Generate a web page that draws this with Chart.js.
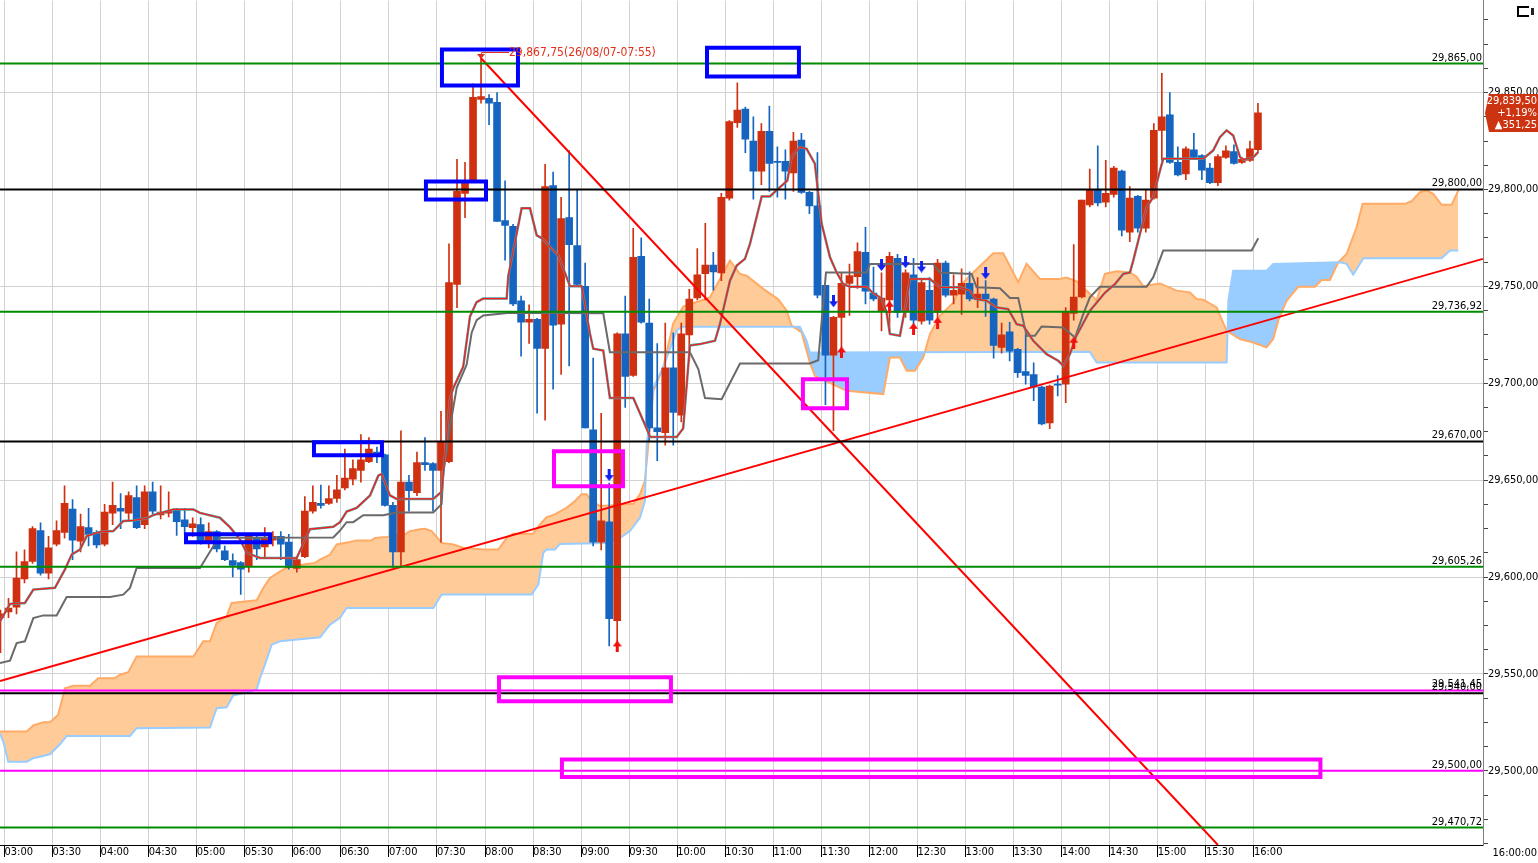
<!DOCTYPE html>
<html>
<head>
<meta charset="utf-8">
<title>5분봉 일목균형표</title>
<script src="https://cdn.jsdelivr.net/npm/chart.js@4.4.1/dist/chart.umd.min.js"></script>
<style>
  html, body { margin: 0; padding: 0; background: #fff; overflow: hidden; }
  canvas { display: block; }
</style>
</head>
<body>
<canvas id="chart" width="1538" height="863"></canvas>
<script>
// ---- data --------------------------------------------------------------
// 5 minute bars, first (partly hidden) bar opens at 02:55
const firstBar = '02:55';
const axisStart = '03:00';
const barMinutes = 5;
const chartDate = '26/08/07';

const openP = [29579, 29582, 29584.5, 29599, 29608, 29624, 29602, 29617, 29623, 29635,
  29618.5, 29625.5, 29623, 29617, 29633, 29635.5, 29633, 29641, 29627, 29644,
  29632, 29633, 29634.5, 29629.5, 29625.5, 29627, 29618, 29623.5, 29613.5, 29608.5,
  29607.5, 29605.5, 29620.5, 29615.5, 29619, 29621, 29618, 29604.5, 29610.5, 29634,
  29638, 29638, 29640.5, 29646, 29650.5, 29655, 29659.5, 29664.5, 29663, 29637,
  29613, 29649, 29643.5, 29659, 29658.5, 29655, 29659.5, 29751, 29798, 29804,
  29846.5, 29847, 29845, 29784, 29781, 29742.5, 29731.5, 29733, 29718, 29802,
  29730.5, 29785.5, 29771, 29750, 29676, 29618, 29628.5, 29577.5, 29725.5, 29704,
  29765.5, 29731, 29677, 29674.5, 29708, 29683.5, 29725, 29744, 29756.5, 29761,
  29757, 29795.5, 29834.5, 29841.5, 29825, 29809.5, 29830, 29814.5, 29814.5, 29808.5,
  29825.5, 29798.5, 29791.5, 29750.5, 29714.5, 29734, 29751.5, 29755, 29767.5, 29746.5,
  29737.5, 29743, 29764.5, 29737, 29756, 29732, 29748, 29736.5, 29762, 29745.5,
  29746, 29751.5, 29743.5, 29746, 29743.5, 29718.5, 29726.5, 29717.5, 29706, 29704.5,
  29698, 29679.5, 29699.5, 29699.5, 29736, 29744.5, 29792, 29800, 29793.5, 29797.5,
  29809.5, 29778, 29796.5, 29780, 29795.5, 29830.5, 29838.5, 29814, 29808, 29820.5,
  29817.5, 29811, 29803.5, 29816.5, 29819.5, 29814, 29815, 29820.5];
const highP = [29583, 29589, 29613, 29614, 29626, 29628, 29621, 29629, 29647, 29640,
  29632.5, 29635.5, 29624, 29637.5, 29649, 29643, 29644, 29647, 29647, 29649,
  29647, 29644, 29635.5, 29635.5, 29630.5, 29630.5, 29628, 29624, 29616, 29612,
  29608, 29622, 29622.5, 29625.5, 29623.5, 29623.5, 29622, 29610.5, 29641.5, 29647,
  29647.5, 29647, 29652.5, 29666, 29660.5, 29673.5, 29672, 29667, 29663.5, 29638.5,
  29675.5, 29652.5, 29664.5, 29672, 29659, 29685.5, 29772, 29815.5, 29814, 29854.5,
  29867.75, 29849, 29850, 29804.5, 29782, 29745, 29740.5, 29733.5, 29813, 29809,
  29796, 29820, 29800, 29762, 29713, 29684.5, 29648.5, 29726, 29745, 29780,
  29775, 29743.5, 29720.5, 29731, 29726, 29731, 29748.5, 29769.5, 29782.5, 29767.5,
  29798, 29835.5, 29855, 29842.5, 29837.5, 29834, 29843, 29822, 29820.5, 29829.5,
  29829, 29799, 29819, 29750.5, 29734.5, 29757, 29761.5, 29772.5, 29780.5, 29760,
  29757, 29767.5, 29766.5, 29758.5, 29764.5, 29754, 29754.5, 29764, 29763, 29756,
  29759, 29757.5, 29754.5, 29753, 29744, 29731, 29731.5, 29718, 29725.5, 29710.5,
  29698.5, 29699, 29704, 29739, 29771.5, 29794.5, 29810.5, 29822.5, 29815, 29812,
  29810, 29801.5, 29797, 29799.5, 29834, 29860, 29850, 29822, 29822, 29829,
  29818, 29813.5, 29818, 29822.5, 29823, 29816.5, 29825, 29844.5];
const lowP = [29561, 29579, 29581, 29597, 29607, 29601, 29599, 29616, 29620, 29609,
  29613, 29616, 29615, 29616, 29627, 29625, 29629, 29625, 29625, 29632.5,
  29630, 29631, 29621.5, 29622, 29621, 29617, 29615, 29613, 29608.5, 29600,
  29591, 29602.5, 29609, 29610.5, 29616, 29609, 29604, 29602.5, 29610, 29633,
  29635.5, 29637.5, 29638.5, 29645, 29647.5, 29649, 29659, 29659, 29636.5, 29605,
  29605, 29634, 29642, 29655, 29634, 29618, 29659, 29739, 29785.5, 29803.5,
  29844.5, 29833.5, 29783.5, 29763.5, 29740, 29714, 29720.5, 29684.5, 29681, 29697,
  29704.5, 29709, 29750.5, 29677, 29616, 29614, 29564.5, 29563.5, 29687.5, 29703.5,
  29731, 29670.5, 29660, 29668, 29668, 29680, 29711.5, 29743, 29743, 29748,
  29753, 29794.5, 29832, 29819, 29795, 29802.5, 29799, 29796, 29795, 29799,
  29798, 29787.5, 29744, 29689, 29675.5, 29714, 29735, 29749, 29741, 29742.5,
  29727, 29727, 29734, 29734, 29730.5, 29730.5, 29730.5, 29734, 29744.5, 29741,
  29735.5, 29742.5, 29739, 29734.5, 29713, 29715.5, 29711.5, 29703, 29699.5, 29691,
  29678.5, 29676.5, 29693.5, 29690, 29732.5, 29744, 29791, 29791.5, 29791, 29796,
  29776, 29773, 29778, 29778, 29795, 29815, 29813.5, 29807, 29805, 29816,
  29805, 29803, 29802, 29816, 29813, 29813.5, 29814.5, 29819];
const closeP = [29581, 29584, 29599.5, 29608, 29625, 29602, 29615, 29624, 29638, 29619,
  29626, 29622, 29616.5, 29633.5, 29637, 29634, 29642, 29625.5, 29644, 29634,
  29633.5, 29634, 29628.5, 29626, 29627.5, 29618, 29623.5, 29614.5, 29609, 29606,
  29604, 29621, 29614.5, 29620.5, 29621, 29617, 29605, 29609, 29634, 29638.5,
  29637, 29640.5, 29645, 29651, 29656, 29660.5, 29666, 29663, 29637, 29613,
  29649, 29644.5, 29659, 29658, 29655, 29669.5, 29752, 29799, 29804, 29847.5,
  29848, 29844.5, 29783.5, 29781.5, 29741, 29731.5, 29733, 29718, 29801.5, 29730,
  29785, 29771.5, 29751, 29677, 29618, 29629, 29578.5, 29725.5, 29703.5, 29765,
  29731.5, 29677, 29675, 29708, 29685, 29725.5, 29743.5, 29756, 29761, 29757.5,
  29796, 29835, 29841, 29826, 29809.5, 29830, 29813.5, 29814, 29809.5, 29825,
  29798.5, 29791.5, 29745.5, 29714.5, 29734, 29751.5, 29755.5, 29768, 29747.5, 29743.5,
  29744, 29765.5, 29736.5, 29757, 29732.5, 29752, 29732.5, 29762, 29745.5, 29748,
  29751.5, 29743.5, 29746, 29743.5, 29719.5, 29725, 29716.5, 29705.5, 29704, 29698,
  29679, 29698.5, 29699, 29737, 29744.5, 29794.5, 29800, 29793, 29798, 29811,
  29779, 29795.5, 29780, 29794.5, 29830.5, 29837.5, 29814, 29807.5, 29821, 29816.5,
  29810, 29803.5, 29817, 29820, 29813.5, 29815.5, 29821, 29839.5];
const dayChange = 351.25;
const dayChangePct = 1.19;

// indicator lines, [bars since 03:00, price]
const tenkan = [[-0.56, 29577.1], [0.69, 29586.1], [2.55, 29586.6], [3.6, 29593.5], [6.3, 29594.4],
  [7.55, 29603.9], [8.39, 29611.6], [9.43, 29614.2], [10.26, 29621.1], [11.92, 29623.3],
  [13.59, 29623.7], [14.83, 29628.9], [16.08, 29629.2], [17.75, 29630.3], [18.58, 29632],
  [21.08, 29634.9], [23.58, 29634.9], [24.41, 29633.1], [26.9, 29630.6], [28.15, 29625.7],
  [29.41, 29619.4], [30.24, 29612.5], [31.9, 29609.8], [36.48, 29609.8], [38.14, 29624.7],
  [41.05, 29625.9], [41.89, 29628.3], [42.72, 29633.8], [43.97, 29635.7], [45.64, 29642.1],
  [46.67, 29652.3], [47.09, 29653.2], [48.13, 29642.1], [48.96, 29640.3], [53.53, 29640.3],
  [54.58, 29644], [55.62, 29692], [56.04, 29697.6], [57.28, 29708.6], [58.12, 29734.5],
  [58.95, 29741.9], [59.77, 29743.7], [62.7, 29743.7], [62.9, 29755.3], [64.57, 29790.3],
  [65.61, 29790.3], [66.45, 29776.3], [67.07, 29774.9], [69.14, 29765.9], [70.61, 29750.1],
  [72.06, 29750.1], [73.1, 29725.6], [73.51, 29717.8], [74.76, 29716.9], [75.59, 29692.4],
  [78.51, 29692.4], [80.17, 29676.7], [80.59, 29672.3], [83.93, 29672.3], [84.74, 29676.7],
  [85.58, 29719.5], [86.84, 29720.2], [88.71, 29721.9], [89.33, 29730.6], [90.58, 29752.9],
  [91.42, 29760.7], [92.45, 29764.2], [93.08, 29771.9], [94.54, 29796.4], [95.57, 29796.4],
  [96.61, 29800.4], [97.74, 29804.6], [98.28, 29816.7], [99.31, 29821.9], [100.15, 29821],
  [101.18, 29813.3], [102.03, 29782.3], [103.07, 29765], [103.9, 29757.2], [104.72, 29751.2],
  [105.56, 29749.8], [107.65, 29749.8], [108.47, 29746.4], [109.52, 29743.8], [110.14, 29736.5],
  [110.55, 29725.4], [111.8, 29724.5], [112.31, 29735.7], [113.06, 29753.8], [115.55, 29753.8],
  [116.79, 29749.5], [119.29, 29749.5], [120.54, 29747.8], [121.16, 29743.5], [122.62, 29742.6],
  [123.87, 29739.1], [125.32, 29738.3], [126.37, 29730.5], [127.19, 29729.7], [128.45, 29721.9],
  [130.12, 29715], [131.56, 29711.6], [132.19, 29709], [133.02, 29715], [133.78, 29724],
  [135.52, 29737.4], [137.39, 29746.7], [138.65, 29751.2], [139.68, 29756.4], [140.52, 29757.2],
  [140.93, 29763.3], [141.77, 29777.1], [142.6, 29790.8], [143.42, 29796], [144.27, 29809.8],
  [144.68, 29815.9], [149.67, 29815.9], [150.92, 29820.2], [151.75, 29827], [152.59, 29830.5],
  [153.41, 29827.9], [154.26, 29816.7], [154.67, 29815.4], [155.92, 29816.7], [156.54, 29819.3]];

const kijun = [[-0.56, 29555.6], [0.69, 29556.8], [1.52, 29565.9], [2.55, 29566.8], [3.6, 29578.8],
  [4.84, 29580.2], [6.51, 29580.2], [7.76, 29589.7], [13.18, 29589.7], [14.83, 29590.9],
  [15.67, 29594.4], [16.5, 29604.7], [24.41, 29604.7], [26.07, 29615.9], [26.9, 29620.2],
  [41.05, 29620.4], [41.89, 29624], [42.72, 29628.3], [43.54, 29628.3], [44.8, 29631.9],
  [47.29, 29631.9], [48.96, 29633.3], [53.53, 29633.3], [54.58, 29637.6], [54.78, 29653.2],
  [55.62, 29677.2], [56.46, 29697.6], [57.7, 29709.5], [58.33, 29726.1], [58.95, 29732.6],
  [59.77, 29735], [63.11, 29736.4], [74.76, 29736.1], [75.59, 29716], [85.58, 29716],
  [86.63, 29707.3], [87.46, 29692.4], [89.54, 29691.8], [91.83, 29710.2], [100.56, 29710.2],
  [101.6, 29711.9], [102.57, 29757.2], [107.65, 29757.2], [108.06, 29761.6], [115.96, 29761.6],
  [116.79, 29757.2], [120.75, 29756.4], [121.37, 29749.5], [124.29, 29749], [125.53, 29744],
  [126.57, 29744], [127.61, 29724.5], [128.66, 29724.5], [129.49, 29729.3], [132.19, 29728.8],
  [133.66, 29723.6], [134.69, 29735.7], [135.52, 29744.3], [136.77, 29749.8], [142.6, 29749.8],
  [143.42, 29754.6], [144.68, 29768.5], [155.71, 29768.5], [156.54, 29774.8]];

const spanA = [[-0.56, 29520.3], [2.78, 29520.3], [3.6, 29523.4], [4.84, 29525.1], [5.68, 29525.1],
  [6.71, 29528.9], [7.55, 29542.6], [8.59, 29543.9], [10.67, 29543.9], [11.71, 29547.8],
  [13.8, 29547.8], [14.42, 29549.6], [15.46, 29550.9], [16.5, 29559], [23.58, 29559],
  [24.82, 29566.8], [25.66, 29566.8], [26.49, 29576.3], [27.74, 29579.7], [28.36, 29586.6],
  [31.49, 29588], [32.31, 29594.3], [33.14, 29599.5], [34.81, 29603.9], [36.06, 29605.6],
  [37.3, 29606.5], [38.76, 29607.3], [39.39, 29609], [40.64, 29611.6], [41.48, 29616.8],
  [43.13, 29618.1], [43.97, 29618.9], [45.85, 29618.9], [46.26, 29620.2], [47.71, 29620.6],
  [50.01, 29622], [50.63, 29623.7], [51.88, 29624.6], [52.5, 29624.9], [53.33, 29623.7],
  [54.58, 29617.6], [56.03, 29616.8], [57.28, 29615.1], [59.77, 29614.2], [61.65, 29614.2],
  [62.7, 29620.2], [63.52, 29622.3], [66.02, 29622.3], [66.86, 29627.1], [67.69, 29630.9],
  [68.52, 29632], [70.18, 29635.7], [71.23, 29639.2], [72.07, 29642.7], [72.69, 29642.7],
  [73.31, 29639.2], [74.35, 29636.6], [76.02, 29637.1], [78.51, 29637.8], [79.34, 29642.7],
  [79.96, 29649.5], [81.01, 29695.9], [82.25, 29708.2], [83.5, 29730.9], [84.75, 29739.6],
  [88.08, 29744.3], [90.58, 29763.3], [91.83, 29756.4], [92.67, 29755.5], [94.73, 29748.7],
  [96.61, 29743.3], [97.66, 29737.4], [98.28, 29729.7], [99.53, 29726.2], [100.56, 29710.6],
  [101.18, 29703.8], [105.15, 29696.1], [109.72, 29694.4], [110.55, 29713.3], [111.8, 29713.3],
  [112.64, 29706.4], [113.68, 29706.4], [114.71, 29713.3], [115.55, 29725.4], [116.79, 29734.8],
  [118.46, 29741.6], [119.71, 29751.9], [120.54, 29755.5], [123.46, 29767.1], [124.7, 29767.1],
  [126.57, 29752.1], [127.61, 29761.6], [129.28, 29753.8], [131.78, 29753.8], [132.61, 29754.6],
  [133.87, 29752.6], [136.36, 29742.9], [137.39, 29756.4], [138.86, 29757.8], [140.52, 29757.2],
  [141.35, 29755], [142.18, 29750.1], [144.27, 29751.5], [146.35, 29747.8], [148, 29746.9],
  [148.85, 29743.5], [149.67, 29743.1], [151.34, 29739.1], [151.96, 29733.1], [152.59, 29727.1],
  [154.26, 29722.8], [155.92, 29721], [157.58, 29718.5], [158.41, 29722.8], [159.03, 29732.3],
  [160.08, 29742.6], [161.53, 29749.8], [163.61, 29749.8], [164.46, 29753.3], [165.49, 29753.3],
  [166.52, 29762.4], [167.57, 29766.7], [168.82, 29780.5], [169.57, 29792.6], [174.86, 29792.6],
  [175.69, 29793.9], [176.73, 29798.6], [177.56, 29799.5], [178.39, 29797.8], [179.43, 29792.1],
  [180.69, 29792.1], [181.52, 29799.5]];

const spanB = [[-0.56, 29519.2], [-0.15, 29515.1], [0.47, 29504.7], [2.78, 29504.7], [3.6, 29506.5],
  [5.68, 29508.5], [6.93, 29513.7], [7.76, 29518], [15.67, 29518], [16.5, 29522],
  [25.66, 29522.3], [26.49, 29532.3], [27.74, 29532.8], [28.56, 29538.9], [30.65, 29540.9],
  [31.49, 29542], [31.9, 29547.8], [32.52, 29554.8], [33.36, 29565.1], [34.4, 29566.8],
  [39.39, 29568.9], [40.64, 29575.4], [41.89, 29578.9], [42.72, 29584], [53.53, 29584],
  [54.58, 29591], [65.82, 29591], [66.65, 29596.1], [67.27, 29612.5], [67.69, 29614.2],
  [68.73, 29614.2], [69.35, 29617.1], [75.18, 29617.6], [76.85, 29620.2], [78.09, 29623.7],
  [79.34, 29630.6], [79.96, 29639.2], [80.17, 29667.9], [81.01, 29697.6], [82.25, 29708.2],
  [83.93, 29727.3], [84.55, 29729.1], [99.31, 29729.1], [100.15, 29721.9], [100.56, 29715.9],
  [135.52, 29716.2], [136.36, 29710.7], [152.59, 29710.7], [152.81, 29742.6], [153.41, 29758.1],
  [157.58, 29758.1], [158.41, 29761.6], [166.73, 29762.4], [167.57, 29761.6], [168.4, 29756.1],
  [169.66, 29764.5], [179.43, 29764.5], [180.48, 29768.5], [181.52, 29768.5]];

// signal arrows: bar number and price
const sellBars = [76, 104, 110, 113, 115, 123];
const sellPrices = [29652.6, 29742.3, 29761.0, 29762.5, 29760.2, 29756.8];
const buyBars = [77, 105, 111, 114, 117, 134];
const buyPrices = [29564.2, 29715.9, 29739.5, 29728.1, 29731.2, 29720.9];

// drawn objects
const levelValues = [29865, 29800, 29736.92, 29670, 29605.26, 29541.45, 29540, 29500, 29470.72];
const levelKinds = ['green', 'black', 'green', 'black', 'green', 'magenta', 'black', 'magenta', 'green'];
// trend lines [bar, price] -> [bar, price]
const trendLines = [
  [[-0.56, 29546.3], [184.59, 29764.2]],
  [[59.5, 29867.75], [151.51, 29461.7]]
];
// boxes [bar1, bar2, price1, price2]
const boxes = [
  [54.62, 64.11, 29872.2, 29853.6], [87.71, 99.19, 29873.2, 29858.3],
  [52.62, 60.12, 29804.1, 29794.8], [38.64, 47.13, 29669.5, 29662.8],
  [22.66, 33.15, 29622.1, 29617.9],
  [68.61, 77.22, 29664.9, 29646.8], [99.69, 105.19, 29702.0, 29687.1],
  [61.74, 83.21, 29548.3, 29535.9], [69.6, 164.3, 29505.8, 29496.8]
];
const boxKinds = ['blue', 'blue', 'blue', 'blue', 'blue', 'magenta', 'magenta', 'magenta', 'magenta'];

const timeTickLabels = ['03:00', '03:30', '04:00', '04:30', '05:00', '05:30', '06:00', '06:30',
  '07:00', '07:30', '08:00', '08:30', '09:00', '09:30', '10:00', '10:30', '11:00', '11:30',
  '12:00', '12:30', '13:00', '13:30', '14:00', '14:30', '15:00', '15:30', '16:00'];
const priceTickLabels = [29500, 29550, 29600, 29650, 29700, 29750, 29800, 29850];

// ---- helpers -----------------------------------------------------------
const FONT = '"DejaVu Sans Condensed", "Liberation Sans", sans-serif';
const UP = '#d03010', DOWN = '#1565c0';
const COLORS = { green: '#008a00', black: '#000000', magenta: '#ff00ff', blue: '#0000ff' };

const toMin = t => { const [h, m] = t.split(':').map(Number); return h * 60 + m; };
const pad = n => String(n).padStart(2, '0');
const barTime = k => { const m = toMin(firstBar) + k * barMinutes; return pad(Math.floor(m / 60)) + ':' + pad(m % 60); };
const barX = k => (toMin(barTime(k)) - toMin(axisStart)) / barMinutes + 0.5;
const fmt = v => {
  const [i, d] = Math.abs(v).toFixed(2).split('.');
  return i.replace(/\B(?=(\d{3})+(?!\d))/g, ',') + ',' + d;
};
const pts = arr => arr.map(([u, p]) => ({ x: u, y: p }));

const xMin = -0.56, xMax = 184.6;
const yMin = 29461.7, yMax = 29897.5;
const priceTicks = [];
for (let v = 29462.5; v <= 29887.5; v += 12.5) priceTicks.push(v);
const isMajor = v => priceTickLabels.includes(v);

function arrowImage(color, down) {
  const c = document.createElement('canvas');
  c.width = 9; c.height = 12;
  const g = c.getContext('2d');
  g.fillStyle = color;
  if (down) {
    g.fillRect(3, 0, 3, 6);
    g.beginPath(); g.moveTo(0, 6); g.lineTo(9, 6); g.lineTo(4.5, 12); g.closePath(); g.fill();
  } else {
    g.fillRect(3, 6, 3, 6);
    g.beginPath(); g.moveTo(4.5, 0); g.lineTo(9, 6); g.lineTo(0, 6); g.closePath(); g.fill();
  }
  return c;
}

const candleColor = ctx => closeP[ctx.dataIndex] >= openP[ctx.dataIndex] ? UP : DOWN;
const lineSet = (data, color, width, order, extra) => Object.assign({
  type: 'line', data, borderColor: color, borderWidth: width, pointRadius: 0,
  fill: false, tension: 0, order
}, extra || {});

const datasets = [
  lineSet(pts(spanA), '#ffab66', 2, 20, { fill: { target: '+1', above: '#ffcc99', below: '#99ccff' } }),
  lineSet(pts(spanB), '#99ccff', 2, 19),
  {
    type: 'bar', order: 15, grouped: false, barThickness: 1,
    data: lowP.map((l, k) => ({ x: barX(k), y: [l, highP[k]] })),
    backgroundColor: candleColor
  },
  {
    type: 'bar', order: 14, grouped: false, barThickness: 7, minBarLength: 1,
    data: openP.map((o, k) => ({ x: barX(k), y: [o, closeP[k]] })),
    backgroundColor: candleColor
  },
  lineSet(pts(kijun), '#6a6a6a', 2, 12),
  lineSet(pts(tenkan), '#4f9e9e', 2.5, 11),
  lineSet(pts(tenkan), '#ff1a1a', 1.3, 10)
];
trendLines.forEach(t => datasets.push(lineSet(pts(t), '#ff0000', 2, 8)));
levelValues.forEach((v, i) => datasets.push(
  lineSet([{ x: xMin, y: v }, { x: xMax, y: v }], COLORS[levelKinds[i]], 2, 6)));
boxes.forEach(([u1, u2, p1, p2], i) => datasets.push(
  lineSet([{ x: u1, y: p1 }, { x: u2, y: p1 }, { x: u2, y: p2 }, { x: u1, y: p2 }, { x: u1, y: p1 }],
    COLORS[boxKinds[i]], 4, 4, { borderJoinStyle: 'miter', borderCapStyle: 'square', borderDash: [4000, 0] })));
datasets.push(lineSet(sellBars.map((k, i) => ({ x: barX(k), y: sellPrices[i] })), '#0000ff', 0, 2,
  { showLine: false, pointRadius: 5, pointStyle: arrowImage('#1020f0', true) }));
datasets.push(lineSet(buyBars.map((k, i) => ({ x: barX(k), y: buyPrices[i] })), '#ff0000', 0, 2,
  { showLine: false, pointRadius: 5, pointStyle: arrowImage('#f01010', false) }));

// ---- labels drawn on top ------------------------------------------------
const overlay = {
  id: 'overlay',
  afterDatasetsDraw(chart) {
    const { ctx, chartArea: a, scales: { x, y } } = chart;
    ctx.save();
    ctx.font = '11px ' + FONT;
    ctx.fillStyle = '#000';
    ctx.textAlign = 'right';
    ctx.textBaseline = 'alphabetic';
    levelValues.forEach(v => ctx.fillText(fmt(v), a.right - 1, Math.round(y.getPixelForValue(v)) - 3));

    // session high marker
    const hi = Math.max(...highP), hk = highP.indexOf(hi);
    const px = Math.round(x.getPixelForValue(barX(hk))), py = Math.round(y.getPixelForValue(hi));
    ctx.fillStyle = '#e0301a';
    ctx.strokeStyle = '#e0301a';
    ctx.lineWidth = 1;
    ctx.beginPath(); ctx.moveTo(px - 4, py - 4); ctx.lineTo(px + 4, py - 4); ctx.lineTo(px, py + 1); ctx.closePath(); ctx.fill();
    ctx.beginPath(); ctx.moveTo(px + 0.5, py - 4); ctx.lineTo(px + 0.5, py - 5.5); ctx.lineTo(px + 28, py - 5.5); ctx.stroke();
    ctx.font = '12px ' + FONT;
    ctx.textAlign = 'left';
    ctx.textBaseline = 'middle';
    ctx.fillText(fmt(hi) + '(' + chartDate + '-' + barTime(hk) + ')', px + 28, py - 5);
    ctx.restore();
  },
  afterDraw(chart) {
    const { ctx, chartArea: a, scales: { y } } = chart;
    const last = closeP.length - 1;
    const cy = Math.round(y.getPixelForValue(closeP[last]));
    const L = a.right + 2, R = chart.width;
    ctx.save();
    ctx.fillStyle = '#cc3311';
    ctx.beginPath();
    ctx.moveTo(L + 4, cy - 19); ctx.lineTo(R, cy - 19); ctx.lineTo(R, cy + 19);
    ctx.lineTo(L + 4, cy + 19); ctx.lineTo(L, cy); ctx.closePath(); ctx.fill();
    ctx.fillStyle = '#fff';
    ctx.font = '11px ' + FONT;
    ctx.textAlign = 'right';
    ctx.textBaseline = 'middle';
    ctx.fillText(fmt(closeP[last]), R - 1, cy - 12);
    ctx.fillText('+' + fmt(dayChangePct) + '%', R - 1, cy);
    ctx.fillText('\u25B2' + fmt(dayChange), R - 1, cy + 12);

    // time of the last bar under the price axis
    ctx.fillStyle = '#000';
    ctx.fillText(barTime(last) + ':00', R - 1, a.bottom + 8);

    // small window icon, top right
    ctx.strokeStyle = '#000';
    ctx.lineWidth = 2;
    ctx.beginPath(); ctx.moveTo(1529, 7); ctx.lineTo(1518, 7); ctx.lineTo(1518, 16); ctx.lineTo(1529, 16); ctx.stroke();
    ctx.fillStyle = '#222';
    ctx.fillRect(1531, 8, 3, 7);
    ctx.restore();
  }
};

Chart.defaults.font.family = FONT;

new Chart(document.getElementById('chart'), {
  type: 'bar',
  data: { datasets },
  options: {
    responsive: false,
    animation: false,
    devicePixelRatio: 1,
    events: [],
    layout: { padding: 0, autoPadding: false },
    plugins: { legend: { display: false }, tooltip: { enabled: false } },
    scales: {
      x: {
        type: 'linear', min: xMin, max: xMax, offset: false,
        afterBuildTicks: s => { s.ticks = timeTickLabels.map(t => ({ value: (toMin(t) - toMin(axisStart)) / barMinutes })); },
        afterFit: s => { s.height = 18; },
        grid: { color: '#d2d2d2', lineWidth: 1, offset: false, drawTicks: true, tickLength: 12, tickColor: '#000' },
        border: { display: true, color: '#000', width: 1 },
        ticks: {
          align: 'start', padding: -10, maxRotation: 0, autoSkip: false, color: '#000',
          font: { size: 11, lineHeight: 1 },
          callback: (v, i) => timeTickLabels[i]
        }
      },
      y: {
        type: 'linear', position: 'right', min: yMin, max: yMax,
        afterBuildTicks: s => { s.ticks = priceTicks.map(v => ({ value: v })); },
        afterFit: s => { s.width = 55; },
        grid: {
          color: c => (c.tick && isMajor(c.tick.value)) ? '#d2d2d2' : 'rgba(0,0,0,0)',
          tickColor: '#444', tickLength: 5, drawTicks: true
        },
        border: { display: true, color: '#808080', width: 1 },
        ticks: {
          padding: 0, color: '#000', autoSkip: false,
          font: { size: 11, lineHeight: 0.1 },
          callback: v => isMajor(v) ? fmt(v) : ''
        }
      }
    }
  },
  plugins: [overlay]
});
</script>
</body>
</html>
